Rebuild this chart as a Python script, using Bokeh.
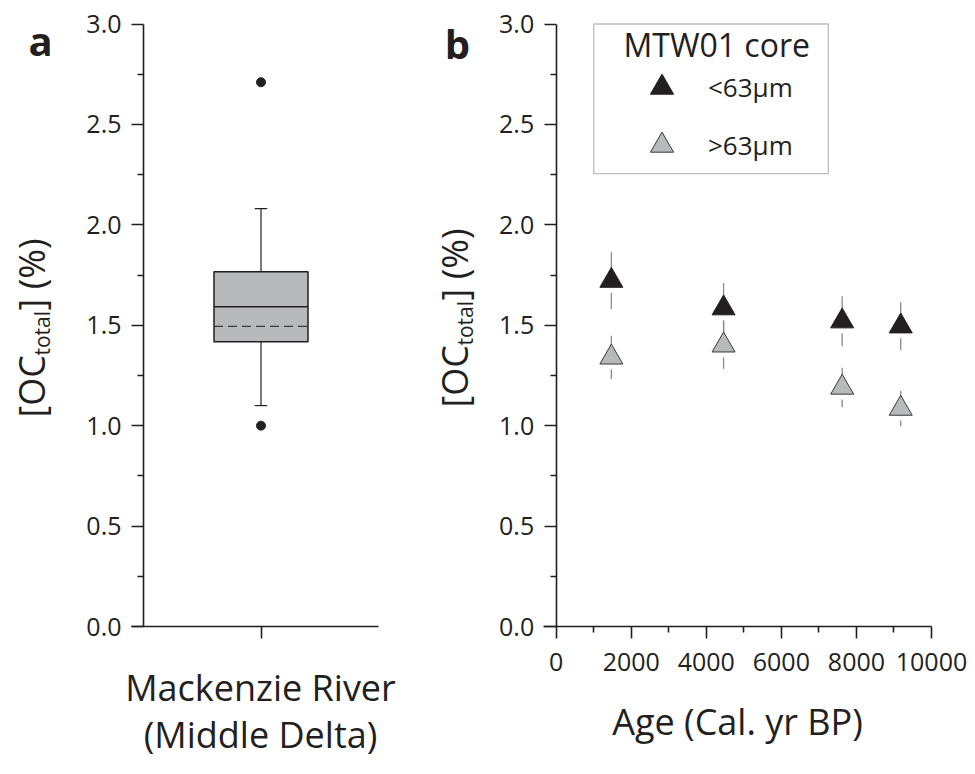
from bokeh.plotting import figure
from bokeh.layouts import row
from bokeh.models import (Range1d, FixedTicker, PrintfTickFormatter, Label,
                          Legend, LegendItem, BoxAnnotation)
from bokeh.embed import file_html
from bokeh.resources import INLINE

FONT = "Open Sans"
INK = "#231f20"
GRAY = "#b8b9bb"
ERR = "#8a8a8a"

# ---------------- data ----------------
# panel a: box plot of [OC_total] (%), Mackenzie River (Middle Delta)
box_pos = [1.0]
box_q1 = [1.418]
box_q3 = [1.766]
box_median = [1.592]
box_mean = [1.494]
whisker_low = [1.10]
whisker_high = [2.081]
outliers = [1.0, 2.71]

# panel b: MTW01 core
age_fine = [1470, 4460, 7620, 9180]
oc_fine = [1.722, 1.585, 1.52, 1.495]
err_fine = [0.141, 0.125, 0.125, 0.12]
age_coarse = [1470, 4460, 7620, 9180]
oc_coarse = [1.34, 1.40, 1.19, 1.085]
err_coarse = [0.108, 0.117, 0.098, 0.088]

y_ticks = [0.0, 0.5, 1.0, 1.5, 2.0, 2.5, 3.0]
y_minor = [0.25, 0.75, 1.25, 1.75, 2.25, 2.75]
x_ticks_b = [0, 2000, 4000, 6000, 8000, 10000]
x_minor_b = [1000, 3000, 5000, 7000, 9000]

# ---------------- layout constants (pixels) ----------------
H = 772
WA, WB = 428, 545
Y_LO, Y_HI = 0.0, 3.0
Y0_PX, Y3_PX = 626.0, 23.5              # pixel rows of y = 0 and y = 3 (from top)
PY = (Y0_PX - Y3_PX) / (Y_HI - Y_LO)     # px per y unit
A_AXIS_PX, A_PER = 143.0, 117.5          # panel a: pixel of x = 0, px per unit
B_AXIS_PX, B_PER = 127.7, 375.3 / 10000  # panel b: pixel of x = 0, px per unit


def style_axis(ax, standoff):
    ax.axis_line_width = 1.6
    ax.axis_line_color = INK
    ax.major_tick_line_color = INK
    ax.major_tick_line_width = 1.6
    ax.minor_tick_line_color = INK
    ax.minor_tick_line_width = 1.6
    ax.major_tick_in = 0
    ax.major_tick_out = 12
    ax.minor_tick_in = 0
    ax.minor_tick_out = 6
    ax.major_label_text_font = FONT
    ax.major_label_text_font_size = "25px"
    ax.major_label_text_color = INK
    ax.major_label_standoff = standoff


def base_fig(width, axis_px, per, x_bounds):
    p = figure(width=width, height=H,
               x_range=Range1d(-axis_px / per, (width - axis_px) / per),
               y_range=Range1d(Y_LO - (H - Y0_PX) / PY, Y_LO + Y0_PX / PY),
               output_backend="svg", toolbar_location=None,
               min_border_left=0, min_border_right=0,
               min_border_top=0, min_border_bottom=0)
    p.grid.visible = False
    p.outline_line_color = None
    p.background_fill_color = "white"
    p.border_fill_color = "white"
    p.yaxis.fixed_location = 0
    p.yaxis.bounds = (Y_LO, Y_HI)
    p.yaxis.ticker = FixedTicker(ticks=y_ticks, minor_ticks=y_minor)
    p.yaxis.formatter = PrintfTickFormatter(format="%.1f")
    style_axis(p.yaxis[0], 10)
    p.xaxis.fixed_location = Y_LO
    p.xaxis.bounds = x_bounds
    return p


def txt(p, x, y_top, text, size, angle=0, align="left", bold=False):
    # x: px from left of canvas, y_top: px from top of canvas
    p.add_layout(Label(x=x, y=H - y_top, x_units="screen", y_units="screen", text=text,
                       angle=angle, angle_units="deg", text_align=align,
                       text_baseline="alphabetic", text_font=FONT,
                       text_font_size=size, text_color=INK,
                       text_font_style="bold" if bold else "normal"))


def y_title(p, xb, y0):
    txt(p, xb, y0, "[OC", "36px", angle=90)
    txt(p, xb + 10, y0 - 62, "total", "21px", angle=90)
    txt(p, xb, y0 - 107, "] (%)", "36px", angle=90)


# ---------------- panel a ----------------
pa = base_fig(WA, A_AXIS_PX, A_PER, (-0.1, 2.0))
pa.xaxis.ticker = FixedTicker(ticks=box_pos, minor_ticks=[])
pa.xaxis.major_label_overrides = {1: ""}
style_axis(pa.xaxis[0], 14)

half = 0.4
cap = 0.053
pa.segment(x0=box_pos, y0=whisker_low, x1=box_pos, y1=box_q1, line_color=INK, line_width=1.2)
pa.segment(x0=box_pos, y0=box_q3, x1=box_pos, y1=whisker_high, line_color=INK, line_width=1.2)
pa.segment(x0=[b - cap for b in box_pos], y0=whisker_low, x1=[b + cap for b in box_pos],
           y1=whisker_low, line_color=INK, line_width=1.2)
pa.segment(x0=[b - cap for b in box_pos], y0=whisker_high, x1=[b + cap for b in box_pos],
           y1=whisker_high, line_color=INK, line_width=1.2)
pa.vbar(x=box_pos, width=2 * half, bottom=box_q1, top=box_q3, fill_color=GRAY,
        line_color=INK, line_width=1.5)
pa.segment(x0=[b - half for b in box_pos], y0=box_median, x1=[b + half for b in box_pos],
           y1=box_median, line_color=INK, line_width=1.3)
pa.segment(x0=[b - half for b in box_pos], y0=box_mean, x1=[b + half for b in box_pos],
           y1=box_mean, line_color="#3a3a3a", line_width=1.3, line_dash="9 5")
pa.scatter(x=[box_pos[0]] * len(outliers), y=outliers, size=9, fill_color=INK, line_color=INK)

y_title(pa, 31, 417)
txt(pa, 260, 687, "Mackenzie River", "36px", align="center")
txt(pa, 260, 734, "(Middle Delta)", "36px", align="center")
txt(pa, 40, 40, "a", "40px", align="center", bold=True)

# ---------------- panel b ----------------
pb = base_fig(WB, B_AXIS_PX, B_PER, (-339, 10000))
pb.xaxis.ticker = FixedTicker(ticks=x_ticks_b, minor_ticks=x_minor_b)
style_axis(pb.xaxis[0], 14)
pb.xaxis.axis_label = "Age (Cal. yr BP)"
pb.xaxis.axis_label_text_font = FONT
pb.xaxis.axis_label_text_font_size = "36px"
pb.xaxis.axis_label_text_font_style = "normal"
pb.xaxis.axis_label_text_color = INK
pb.xaxis.axis_label_standoff = 23

gap = 12 / PY  # error bars start at the marker edge


def err_bars(p, xs, ys, es):
    p.segment(x0=xs, y0=[y - e for y, e in zip(ys, es)], x1=xs, y1=[y - gap for y in ys],
              line_color=ERR, line_width=1.3)
    p.segment(x0=xs, y0=[y + gap for y in ys], x1=xs, y1=[y + e for y, e in zip(ys, es)],
              line_color=ERR, line_width=1.3)


err_bars(pb, age_fine, oc_fine, err_fine)
err_bars(pb, age_coarse, oc_coarse, err_coarse)
r_fine = pb.scatter(x=age_fine, y=oc_fine, marker="triangle", size=23,
                    fill_color=INK, line_color=INK, line_width=1)
r_coarse = pb.scatter(x=age_coarse, y=oc_coarse, marker="triangle", size=23,
                      fill_color=GRAY, line_color="#3a3a3a", line_width=1)

pb.add_layout(BoxAnnotation(left=1000, right=7250, top=3.0, bottom=2.255,
                            fill_color=None, line_color=INK, line_width=1.3))
txt(pb, 195, 44, "MTW01 core", "32px")
leg = Legend(items=[LegendItem(label="<63µm", renderers=[r_fine]),
                    LegendItem(label=">63µm", renderers=[r_coarse])],
             location=(195, H - 174), orientation="vertical", glyph_width=77, glyph_height=58,
             spacing=-6, padding=0, margin=0, label_standoff=8,
             label_text_font=FONT, label_text_font_size="26px", label_text_color=INK,
             border_line_color=None, background_fill_alpha=0)
pb.add_layout(leg)

y_title(pb, 26, 407)
txt(pb, 29, 43, "b", "40px", align="center", bold=True)

layout = row(pa, pb)
open("out.html", "w").write(file_html(layout, INLINE))
